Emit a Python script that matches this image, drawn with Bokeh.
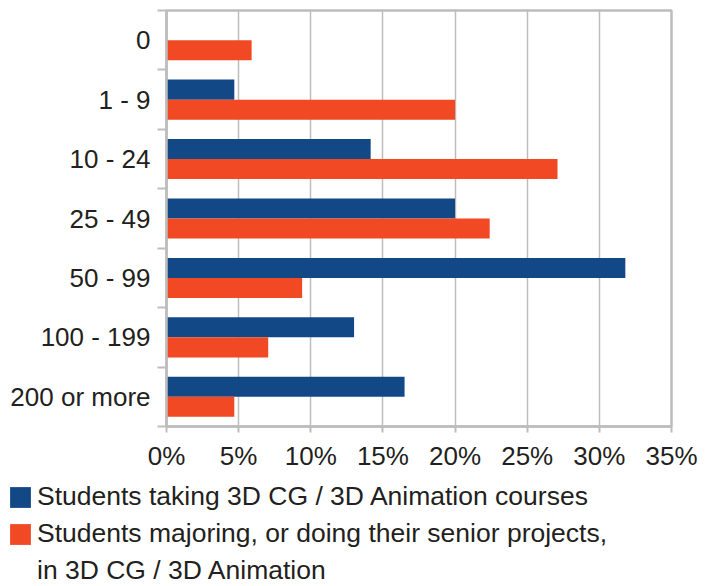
from bokeh.plotting import figure
from bokeh.layouts import column
from bokeh.models import (ColumnDataSource, FixedTicker, PrintfTickFormatter,
                          Legend, LegendItem, Range1d)
from bokeh.embed import file_html
from bokeh.resources import INLINE

categories = ["0", "1 - 9", "10 - 24", "25 - 49", "50 - 99", "100 - 199", "200 or more"]
courses = [0.0, 4.7, 14.15, 20.0, 31.8, 13.0, 16.5]
majors = [5.9, 20.0, 27.1, 22.4, 9.4, 7.05, 4.7]
x_ticks = [0, 5, 10, 15, 20, 25, 30, 35]
series_names = ["Students taking 3D CG / 3D Animation courses",
                "Students majoring, or doing their senior projects,",
                "in 3D CG / 3D Animation"]

BLUE = "#134887"
ORANGE = "#F04923"
GRAY = "#BDBDBD"
TEXT = "#231F20"
FONT = "Liberation Sans"

n = len(categories)
centers = [n - i - 0.5 for i in range(n)]
bar_h = 0.337
src = ColumnDataSource(dict(
    cat=categories,
    c=courses,
    m=majors,
    y_top=[y + bar_h / 2 for y in centers],
    y_bot=[y - bar_h / 2 for y in centers],
))

p = figure(width=705, height=476, output_backend="svg", toolbar_location=None,
           x_range=Range1d(0, 35), y_range=Range1d(0, n),
           min_border_left=166, min_border_right=34, min_border_top=10,
           min_border_bottom=50)

r1 = p.hbar(y="y_top", right="c", left=0, height=bar_h, source=src,
            fill_color=BLUE, line_color=None)
r2 = p.hbar(y="y_bot", right="m", left=0, height=bar_h, source=src,
            fill_color=ORANGE, line_color=None)

p.xaxis.ticker = FixedTicker(ticks=x_ticks)
p.xaxis.formatter = PrintfTickFormatter(format="%d%%")
p.xaxis.major_tick_out = 6
p.xaxis.major_tick_in = 0
p.xaxis.minor_tick_line_color = None
p.xaxis.major_tick_line_color = GRAY
p.xaxis.major_tick_line_width = 2
p.xaxis.axis_line_color = GRAY
p.xaxis.axis_line_width = 2.5
p.xaxis.major_label_text_font = FONT
p.xaxis.major_label_text_font_size = "26px"
p.xaxis.major_label_text_color = TEXT
p.xaxis.major_label_standoff = 8

p.yaxis.ticker = FixedTicker(ticks=centers, minor_ticks=list(range(n + 1)))
p.yaxis.major_label_overrides = {float(y): c for y, c in zip(centers, categories)}
p.yaxis.major_tick_out = 0
p.yaxis.major_tick_in = 0
p.yaxis.major_tick_line_color = None
p.yaxis.minor_tick_out = 9
p.yaxis.minor_tick_in = 0
p.yaxis.minor_tick_line_color = GRAY
p.yaxis.minor_tick_line_width = 2
p.yaxis.axis_line_color = GRAY
p.yaxis.axis_line_width = 2.5
p.yaxis.major_label_text_font = FONT
p.yaxis.major_label_text_font_size = "26px"
p.yaxis.major_label_text_color = TEXT
p.yaxis.major_label_standoff = 7

p.xgrid.ticker = FixedTicker(ticks=x_ticks)
p.xgrid.grid_line_color = GRAY
p.xgrid.grid_line_width = 1.5
p.ygrid.grid_line_color = None

p.outline_line_color = GRAY
p.outline_line_width = 2.5
p.background_fill_color = "white"
p.border_fill_color = "white"

# legend panel
q = figure(width=705, height=110, output_backend="svg", toolbar_location=None,
           x_range=Range1d(0, 1), y_range=Range1d(0, 1),
           min_border_left=7, min_border_top=5, min_border_right=0,
           min_border_bottom=0, x_axis_location=None, y_axis_location=None)
q.frame_align = False
q.grid.visible = False
q.outline_line_color = None
q.background_fill_color = "white"
q.border_fill_color = "white"
l1 = q.hbar(y=[-10], right=[1], left=0, height=0.1, fill_color=BLUE, line_color=None)
l2 = q.hbar(y=[-10], right=[1], left=0, height=0.1, fill_color=ORANGE, line_color=None)
l3 = q.hbar(y=[-10], right=[1], left=0, height=0.1, fill_alpha=0, line_color=None)

legend = Legend(items=[LegendItem(label=series_names[0], renderers=[l1]),
                       LegendItem(label=series_names[1], renderers=[l2]),
                       LegendItem(label=series_names[2], renderers=[l3])],
                location="top_left", orientation="vertical",
                glyph_width=26, glyph_height=26, label_standoff=4,
                label_text_font=FONT, label_text_font_size="26.5px",
                label_text_color=TEXT, spacing=6, padding=0, margin=0,
                border_line_color=None, background_fill_alpha=0)
q.add_layout(legend, "center")

layout = column(p, q, spacing=0)
open("out.html", "w").write(file_html(layout, INLINE))
